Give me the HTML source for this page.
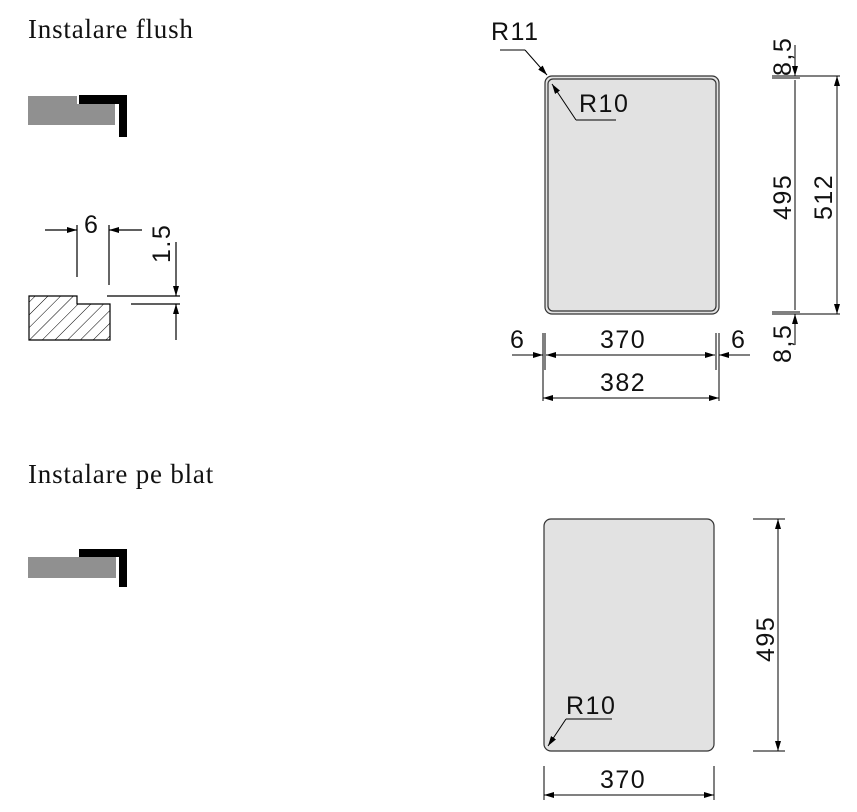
<!DOCTYPE html><html><head><style>body{margin:0;background:#fff}svg{display:block}text{font-family:"Liberation Sans",sans-serif;font-size:25px;letter-spacing:1.5px;fill:#111}.s{font-family:"Liberation Serif",serif;font-size:27px;letter-spacing:0.8px}</style></head><body>
<svg width="857" height="812" viewBox="0 0 857 812">
<defs><marker id="a" markerWidth="10" markerHeight="6" refX="10" refY="3" orient="auto" markerUnits="userSpaceOnUse"><path d="M0,0L10,3L0,6z" fill="#000"/></marker>
<pattern id="h" width="9" height="9" patternUnits="userSpaceOnUse" patternTransform="rotate(45)"><line x1="0" y1="0" x2="0" y2="9" stroke="#000" stroke-width="1"/></pattern></defs>
<text class="s" x="28" y="38">Instalare flush</text>
<text class="s" x="28" y="483">Instalare pe blat</text>
<g stroke="none">
<path d="M28,96H77V104H115V125H28Z" fill="#909090"/>
<path d="M79,95H127V137H119V104H79Z" fill="#000"/>
<rect x="28" y="557" width="88" height="21" fill="#909090"/>
<path d="M79,549H127V587H119V557H79Z" fill="#000"/>
</g>
<g stroke="#000" stroke-width="1.2" fill="none">
<path d="M29,296H77V304H110V340H29Z" fill="url(#h)"/>
<line x1="77" y1="225" x2="77" y2="277"/><line x1="109" y1="225" x2="109" y2="285"/>
<line x1="45" y1="230" x2="77" y2="230" marker-end="url(#a)"/>
<line x1="142" y1="230" x2="109" y2="230" marker-end="url(#a)"/>
<line x1="107" y1="296" x2="180" y2="296"/><line x1="131" y1="304" x2="180" y2="304"/>
<line x1="176" y1="242" x2="176" y2="296" marker-end="url(#a)"/>
<line x1="176" y1="340" x2="176" y2="304" marker-end="url(#a)"/>
</g>
<text x="84" y="233">6</text>
<text transform="translate(170,263) rotate(-90)">1.5</text>
<rect x="545" y="76" width="174" height="238" rx="7" fill="#e2e2e2" stroke="#333" stroke-width="1.2"/>
<rect x="548" y="79" width="168" height="232" rx="5" fill="none" stroke="#333" stroke-width="1.2"/>
<g stroke="#000" stroke-width="1" fill="none">
<line x1="500" y1="50" x2="525" y2="50"/><line x1="525" y1="50" x2="547" y2="75" marker-end="url(#a)"/>
<line x1="616" y1="120" x2="576" y2="120"/><line x1="576" y1="120" x2="552" y2="84" marker-end="url(#a)"/>
<line x1="772" y1="76" x2="840" y2="76"/><line x1="772" y1="78" x2="800" y2="78"/>
<line x1="772" y1="314" x2="840" y2="314"/><line x1="772" y1="312" x2="800" y2="312"/>
<line x1="795" y1="45" x2="795" y2="76" marker-end="url(#a)"/>
<line x1="795" y1="80" x2="795" y2="310"/>
<line x1="795" y1="345" x2="795" y2="314" marker-end="url(#a)"/>
<line x1="837" y1="200" x2="837" y2="76" marker-end="url(#a)"/><line x1="837" y1="200" x2="837" y2="314" marker-end="url(#a)"/>
<line x1="543" y1="333" x2="543" y2="401"/><line x1="545" y1="333" x2="545" y2="370"/>
<line x1="719" y1="333" x2="719" y2="401"/><line x1="716" y1="333" x2="716" y2="370"/>
<line x1="512" y1="355" x2="543" y2="355" marker-end="url(#a)"/>
<line x1="630" y1="355" x2="546" y2="355" marker-end="url(#a)"/><line x1="630" y1="355" x2="715" y2="355" marker-end="url(#a)"/>
<line x1="750" y1="355" x2="719" y2="355" marker-end="url(#a)"/>
<line x1="630" y1="398" x2="543" y2="398" marker-end="url(#a)"/><line x1="630" y1="398" x2="719" y2="398" marker-end="url(#a)"/>
</g>
<text x="491" y="40">R11</text><text x="579" y="112">R10</text>
<text transform="translate(791,76) rotate(-90)">8,5</text>
<text transform="translate(791,363) rotate(-90)">8,5</text>
<text transform="translate(791,220) rotate(-90)">495</text>
<text transform="translate(832,220) rotate(-90)">512</text>
<text x="510" y="348">6</text><text x="600" y="348">370</text><text x="731" y="348">6</text><text x="600" y="391">382</text>
<rect x="544" y="519" width="170" height="232" rx="7" fill="#e2e2e2" stroke="#333" stroke-width="1.2"/>
<g stroke="#000" stroke-width="1" fill="none">
<line x1="753" y1="519" x2="785" y2="519"/><line x1="753" y1="751" x2="785" y2="751"/>
<line x1="778" y1="635" x2="778" y2="519" marker-end="url(#a)"/><line x1="778" y1="635" x2="778" y2="751" marker-end="url(#a)"/>
<line x1="544" y1="766" x2="544" y2="800"/><line x1="714" y1="766" x2="714" y2="800"/>
<line x1="629" y1="795" x2="544" y2="795" marker-end="url(#a)"/><line x1="629" y1="795" x2="714" y2="795" marker-end="url(#a)"/>
<line x1="612" y1="719" x2="566" y2="719"/><line x1="566" y1="719" x2="548" y2="746" marker-end="url(#a)"/>
</g>
<text x="566" y="714">R10</text>
<text transform="translate(774,662) rotate(-90)">495</text>
<text x="600" y="788">370</text>
</svg></body></html>
